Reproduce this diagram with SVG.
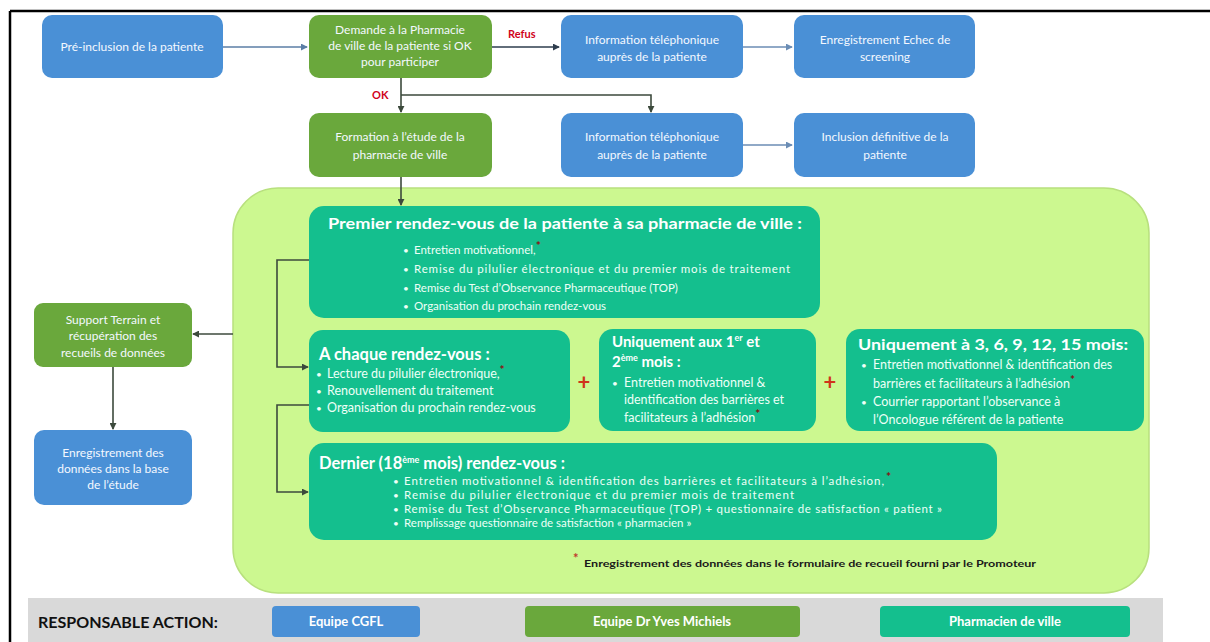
<svg xmlns="http://www.w3.org/2000/svg" width="1210" height="642" viewBox="0 0 1210 642">
<style>
  text{font-family:Lato,"Open Sans","Liberation Sans",sans-serif;}
  .blue{fill:#4a90d6;}
  .green{fill:#6aa83c;}
  .teal{fill:#14bf8e;}
  .nt{fill:#f4f8ff;font-size:12px;text-anchor:middle;}
  .tt{fill:#ffffff;font-size:15px;font-weight:bold;}
  .bt{fill:#eefff7;font-size:11.5px;}
  .bt2{fill:#eefff7;font-size:12.5px;}
  .bu{fill:#eefff7;font-size:10px;}
  .ast{fill:#8b1010;font-size:12px;font-weight:bold;}
  .lab{fill:#d0021b;font-size:11px;font-weight:bold;}
  .plus{fill:#d0341b;font-size:22px;font-weight:bold;text-anchor:middle;}
  .con{fill:none;stroke:#3c4a3c;stroke-width:1.6;}
  .leg{fill:#ffffff;font-size:13px;font-weight:bold;text-anchor:middle;}
</style>
<defs>
  <marker id="ah" viewBox="0 0 8 8" refX="7" refY="4" markerWidth="7" markerHeight="7" markerUnits="userSpaceOnUse" orient="auto">
    <path d="M0,0 L8,4 L0,8 z" fill="context-stroke"/>
  </marker>
</defs>
<rect width="1210" height="642" fill="#ffffff"/>
<g id="frame">
  <line x1="10" y1="11" x2="1210" y2="11" stroke="#000" stroke-width="2.5"/>
  <line x1="10" y1="11" x2="10" y2="642" stroke="#000" stroke-width="2.5"/>
</g>

<g id="container">
  <rect x="233" y="188" width="916" height="405" rx="45" fill="#ccf890" stroke="#b8e07e" stroke-width="1.5"/>
</g>

<g id="connectors">
  <line class="con" x1="223" y1="47" x2="307" y2="47" style="stroke:#5b7ea6" marker-end="url(#ah)"/>
  <line class="con" x1="492" y1="47" x2="559" y2="47" style="stroke:#2e3e4e" marker-end="url(#ah)"/>
  <line class="con" x1="743" y1="47" x2="792" y2="47" style="stroke:#6b8db5" marker-end="url(#ah)"/>
  <line class="con" x1="401" y1="78" x2="401" y2="112" marker-end="url(#ah)"/>
  <path class="con" d="M401,95 H651 V112" marker-end="url(#ah)"/>
  <line class="con" x1="743" y1="145" x2="792" y2="145" style="stroke:#6b8db5" marker-end="url(#ah)"/>
  <line class="con" x1="401" y1="177" x2="401" y2="205" marker-end="url(#ah)"/>
  <line class="con" x1="233" y1="334" x2="193" y2="334" marker-end="url(#ah)"/>
  <line class="con" x1="113" y1="367" x2="113" y2="429" marker-end="url(#ah)"/>
  <path class="con" d="M309,260 H277 V367 H308" marker-end="url(#ah)"/>
  <path class="con" d="M309,405 H277 V492 H308" marker-end="url(#ah)"/>
  <text class="lab" x="508" y="38">Refus</text>
  <text class="lab" x="372" y="99">OK</text>
</g>

<g id="n-preinclusion">
  <rect class="blue" x="42" y="15" width="181" height="63" rx="10"/>
  <text class="nt" x="132" y="51">Pré-inclusion de la patiente</text>
</g>
<g id="n-demande">
  <rect class="green" x="309" y="15" width="183" height="63" rx="10"/>
  <text class="nt" x="400" y="34">Demande à la Pharmacie</text>
  <text class="nt" x="400" y="50">de ville de la patiente si OK</text>
  <text class="nt" x="400" y="66">pour participer</text>
</g>
<g id="n-info1">
  <rect class="blue" x="561" y="15" width="182" height="63" rx="10"/>
  <text class="nt" x="652" y="44">Information téléphonique</text>
  <text class="nt" x="652" y="61">auprès de la patiente</text>
</g>
<g id="n-echec">
  <rect class="blue" x="794" y="15" width="181" height="63" rx="10"/>
  <text class="nt" x="885" y="44">Enregistrement Echec de</text>
  <text class="nt" x="885" y="61">screening</text>
</g>
<g id="n-formation">
  <rect class="green" x="309" y="113" width="183" height="64" rx="10"/>
  <text class="nt" x="400" y="141">Formation  à l’étude de la</text>
  <text class="nt" x="400" y="159">pharmacie de ville</text>
</g>
<g id="n-info2">
  <rect class="blue" x="561" y="113" width="182" height="64" rx="10"/>
  <text class="nt" x="652" y="141">Information téléphonique</text>
  <text class="nt" x="652" y="159">auprès de la patiente</text>
</g>
<g id="n-inclusion">
  <rect class="blue" x="794" y="113" width="181" height="64" rx="10"/>
  <text class="nt" x="885" y="141">Inclusion définitive de la</text>
  <text class="nt" x="885" y="159">patiente</text>
</g>

<g id="n-support">
  <rect class="green" x="34" y="303" width="158" height="64" rx="9"/>
  <text class="nt" x="113" y="324">Support Terrain et</text>
  <text class="nt" x="113" y="340">récupération des</text>
  <text class="nt" x="113" y="357">recueils de données</text>
</g>
<g id="n-base">
  <rect class="blue" x="34" y="430" width="158" height="75" rx="10"/>
  <text class="nt" x="113" y="457">Enregistrement des</text>
  <text class="nt" x="113" y="473">données dans la base</text>
  <text class="nt" x="113" y="489">de l’étude</text>
</g>

<g id="n-premier">
  <rect class="teal" x="309" y="206" width="511" height="112" rx="15"/>
  <text class="tt" x="328" y="229" textLength="474" lengthAdjust="spacingAndGlyphs">Premier rendez-vous de  la patiente à sa pharmacie de ville :</text>
  <text class="bu" x="403" y="254">•</text><text class="bt" x="414" y="254">Entretien motivationnel,<tspan class="ast" dy="-4">*</tspan></text>
  <text class="bu" x="403" y="273">•</text><text class="bt" x="414" y="273" textLength="376" lengthAdjust="spacing">Remise du pilulier électronique et du premier mois de traitement</text>
  <text class="bu" x="403" y="292">•</text><text class="bt" x="414" y="292">Remise du Test d’Observance Pharmaceutique (TOP)</text>
  <text class="bu" x="403" y="310">•</text><text class="bt" x="414" y="310">Organisation du prochain rendez-vous</text>
</g>

<g id="n-chaque">
  <rect class="teal" x="309" y="330" width="261" height="102" rx="14"/>
  <text class="tt" x="319" y="360" style="font-size:16.5px">A chaque rendez-vous :</text>
  <text class="bu" x="316" y="378">•</text><text class="bt2" x="327" y="378">Lecture du pilulier électronique,<tspan class="ast" dy="-4">*</tspan></text>
  <text class="bu" x="316" y="395">•</text><text class="bt2" x="327" y="395">Renouvellement du traitement</text>
  <text class="bu" x="316" y="412">•</text><text class="bt2" x="327" y="412">Organisation du prochain rendez-vous</text>
</g>
<text class="plus" x="584" y="390">+</text>

<g id="n-uniq12">
  <rect class="teal" x="599" y="329" width="217" height="102" rx="14"/>
  <text class="tt" x="612" y="347">Uniquement aux 1<tspan style="font-size:9px" dy="-6">er</tspan><tspan dy="6"> et</tspan></text>
  <text class="tt" x="612" y="367">2<tspan style="font-size:9px" dy="-6">ème</tspan><tspan dy="6"> mois :</tspan></text>
  <text class="bu" x="612" y="387">•</text><text class="bt2" x="624" y="387">Entretien motivationnel &amp;</text>
  <text class="bt2" x="624" y="404">identification des barrières et</text>
  <text class="bt2" x="624" y="422">facilitateurs à l’adhésion<tspan class="ast" dy="-4">*</tspan></text>
</g>
<text class="plus" x="830" y="390">+</text>

<g id="n-uniq3">
  <rect class="teal" x="846" y="329" width="298" height="102" rx="14"/>
  <text class="tt" x="858" y="350" textLength="270" lengthAdjust="spacingAndGlyphs">Uniquement à 3, 6, 9, 12, 15 mois:</text>
  <text class="bu" x="861" y="369">•</text><text class="bt2" x="873" y="369">Entretien motivationnel &amp; identification des</text>
  <text class="bt2" x="873" y="388">barrières et facilitateurs à l’adhésion<tspan class="ast" dy="-4">*</tspan></text>
  <text class="bu" x="861" y="406">•</text><text class="bt2" x="873" y="406">Courrier rapportant l’observance à</text>
  <text class="bt2" x="873" y="424">l’Oncologue référent de la patiente</text>
</g>

<g id="n-dernier">
  <rect class="teal" x="309" y="443" width="688" height="97" rx="15"/>
  <text class="tt" x="319" y="469" style="font-size:16.5px">Dernier (18<tspan style="font-size:9px" dy="-6">ème</tspan><tspan dy="6"> mois) rendez-vous :</tspan></text>
  <text class="bu" x="393" y="485">•</text><text class="bt" x="404" y="485" textLength="480" lengthAdjust="spacing">Entretien motivationnel &amp; identification des barrières et facilitateurs à l’adhésion,</text><text class="ast" x="886" y="481">*</text>
  <text class="bu" x="393" y="499">•</text><text class="bt" x="404" y="499" textLength="390" lengthAdjust="spacing">Remise du pilulier électronique et du premier mois de traitement</text>
  <text class="bu" x="393" y="513">•</text><text class="bt" x="404" y="513" textLength="538" lengthAdjust="spacing">Remise du Test d’Observance Pharmaceutique (TOP) + questionnaire de satisfaction « patient »</text>
  <text class="bu" x="393" y="527">•</text><text class="bt" x="404" y="527">Remplissage questionnaire de satisfaction « pharmacien »</text>
</g>

<g id="footnote">
  <text class="ast" x="573" y="563" style="font-size:13px;fill:#c0392b">*</text>
  <text x="584" y="567" style="font-size:10px;font-weight:bold;fill:#1a1a1a" textLength="452" lengthAdjust="spacingAndGlyphs">Enregistrement des données dans le formulaire de recueil fourni par le Promoteur</text>
</g>

<g id="legend">
  <rect x="28" y="598" width="1135" height="44" fill="#d9d9d9"/>
  <text x="38" y="628" style="font-size:15px;font-weight:bold;fill:#111" textLength="180" lengthAdjust="spacingAndGlyphs">RESPONSABLE ACTION:</text>
  <g id="leg-cgfl">
    <rect class="blue" x="272" y="606" width="148" height="31" rx="4"/>
    <text class="leg" x="346" y="626">Equipe CGFL</text>
  </g>
  <g id="leg-michiels">
    <rect class="green" x="525" y="606" width="275" height="31" rx="4"/>
    <text class="leg" x="662" y="626">Equipe Dr Yves Michiels</text>
  </g>
  <g id="leg-pharma">
    <rect class="teal" x="880" y="606" width="250" height="31" rx="4"/>
    <text class="leg" x="1005" y="626">Pharmacien de ville</text>
  </g>
</g>
</svg>
